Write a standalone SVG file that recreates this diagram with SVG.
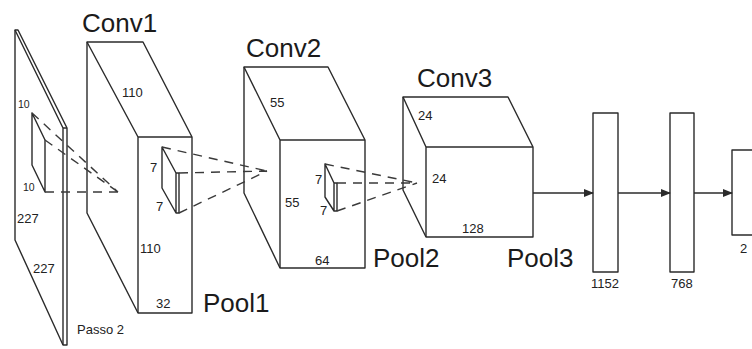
<svg xmlns="http://www.w3.org/2000/svg" width="752" height="349" viewBox="0 0 752 349">
<style>
.ln{fill:none;stroke:#2b2b2b;stroke-width:1.4;stroke-linejoin:round}
.face{fill:#fff;stroke:#2b2b2b;stroke-width:1.4;stroke-linejoin:round}
.dash{fill:none;stroke:#3a3a3a;stroke-width:1.4;stroke-dasharray:9 7}
.ti{font-family:"Liberation Sans",Arial,sans-serif;font-size:26px;fill:#1b1b1b}
.lb{font-family:"Liberation Sans",Arial,sans-serif;font-size:13px;fill:#222}
.sm{font-family:"Liberation Sans",Arial,sans-serif;font-size:10.5px;fill:#222}
</style>
<defs>
<marker id="ah" markerWidth="10" markerHeight="8" refX="9" refY="4" orient="auto" markerUnits="userSpaceOnUse">
<path d="M0,0 L10,4 L0,8 Z" fill="#2b2b2b"/>
</marker>
</defs>
<rect width="752" height="349" fill="#fff"/>

<g id="input">
<path class="face" d="M15,30 L18,30 L67,128 L67,345 L63,345 L15,240 Z"/>
<path class="ln" d="M15,30 L63,128 L63,345 M63,128 L67,128"/>
<path class="ln" d="M32,113 L32,165 L45,192 L45,140 Z"/>
<text class="sm" x="18" y="108">10</text>
<text class="sm" x="23" y="191">10</text>
<text class="lb" x="17" y="223">227</text>
<text class="lb" x="33" y="273">227</text>
<text class="lb" x="77" y="334">Passo 2</text>
</g>

<g id="conv1">
<path class="face" d="M87,42 L143,42 L192,137 L192,313 L138,313 L87,213 Z"/>
<path class="ln" d="M87,42 L138,137 L192,137 M138,137 L138,313"/>
<path class="ln" d="M162,147 L162,188 L176,213 L176,173 Z M176,173 L179,173 L179,213 L176,213"/>
<text class="ti" x="82" y="32">Conv1</text>
<text class="lb" x="122" y="97">110</text>
<text class="lb" x="150" y="172">7</text>
<text class="lb" x="156" y="211">7</text>
<text class="lb" x="140" y="253">110</text>
<text class="lb" x="156" y="308">32</text>
<text class="ti" x="203" y="312">Pool1</text>
</g>

<g id="conv2">
<path class="face" d="M244,67 L328,67 L365,140 L365,268 L280,268 L244,193 Z"/>
<path class="ln" d="M244,67 L280,140 L365,140 M280,140 L280,268"/>
<path class="ln" d="M325,164 L325,197 L334,211 L334,183 Z M334,183 L337,183 L337,211 L334,211"/>
<text class="ti" x="246" y="57">Conv2</text>
<text class="lb" x="270" y="107">55</text>
<text class="lb" x="285" y="207">55</text>
<text class="lb" x="315" y="184">7</text>
<text class="lb" x="320" y="215">7</text>
<text class="lb" x="315" y="265">64</text>
<text class="ti" x="373" y="267">Pool2</text>
</g>

<g id="conv3">
<path class="face" d="M403,97 L508,97 L533,147 L533,237 L426,237 L403,190 Z"/>
<path class="ln" d="M403,97 L426,147 L533,147 M426,147 L426,237"/>
<text class="ti" x="417" y="87">Conv3</text>
<text class="lb" x="418" y="120">24</text>
<text class="lb" x="432" y="183">24</text>
<text class="lb" x="462" y="233">128</text>
<text class="ti" x="507" y="267">Pool3</text>
</g>

<g id="fc1">
<rect class="face" x="593" y="113" width="25" height="159"/>
<text class="lb" x="591" y="288">1152</text>
</g>
<g id="fc2">
<rect class="face" x="670" y="113" width="24" height="159"/>
<text class="lb" x="671" y="288">768</text>
</g>
<g id="out">
<rect class="face" x="732" y="150" width="30" height="85"/>
<text class="lb" x="740" y="253">2</text>
</g>

<g id="connectors">
<path class="dash" d="M32,113 L118,192 M45,140 L118,192 M45,192 L118,192"/>
<path class="dash" d="M162,147 L267,171 M179,173 L267,171 M179,213 L267,171"/>
<path class="dash" d="M325,164 L417,183 M337,183 L417,183 M337,211 L417,183"/>
<line class="ln" x1="533" y1="193" x2="593" y2="193" marker-end="url(#ah)"/>
<line class="ln" x1="618" y1="193" x2="670" y2="193" marker-end="url(#ah)"/>
<line class="ln" x1="694" y1="193" x2="732" y2="193" marker-end="url(#ah)"/>
</g>
</svg>
